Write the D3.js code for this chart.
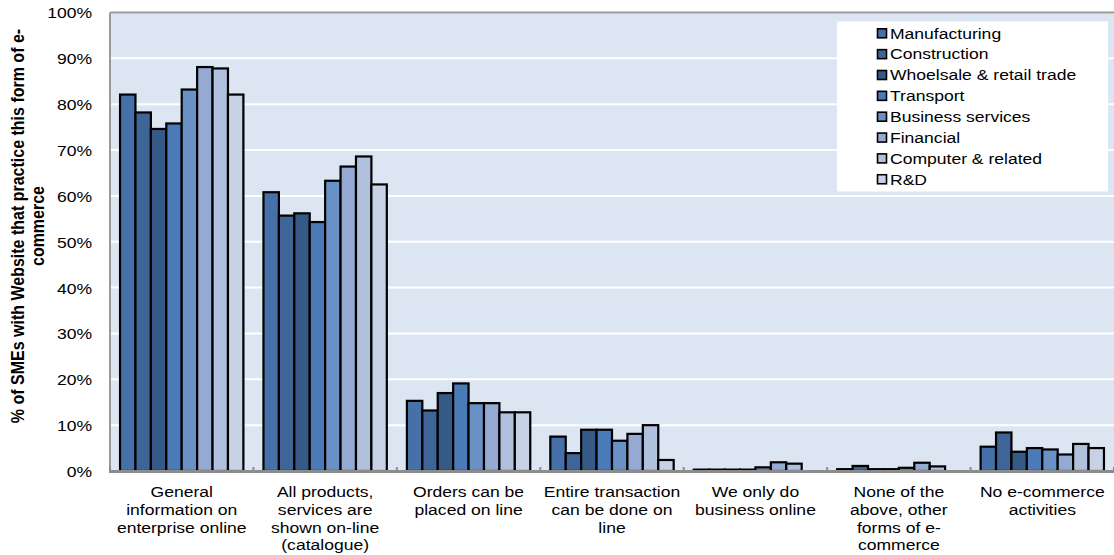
<!DOCTYPE html>
<html><head><meta charset="utf-8">
<script src="https://cdn.jsdelivr.net/npm/d3@7"></script>
<style>
html,body{margin:0;padding:0;background:#fff;}
svg text{font-family:"Liberation Sans",Arial,sans-serif;fill:#000;}
</style></head>
<body><svg id="chart" width="1114" height="555"></svg>
<script>
const categories = ["General information on enterprise online","All products, services are shown on-line (catalogue)","Orders can be placed on line","Entire transaction can be done on line","We only do business online","None of the above, other forms of e-commerce","No e-commerce activities"];
const categoryLines = [["General","information on","enterprise online"],["All products,","services are","shown on-line","(catalogue)"],["Orders can be","placed on line"],["Entire transaction","can be done on","line"],["We only do","business online"],["None of the","above, other","forms of e-","commerce"],["No e-commerce","activities"]];
const seriesNames = ["Manufacturing","Construction","Whoelsale & retail trade","Transport","Business services","Financial","Computer & related","R&D"];
const manufacturing = [82.1, 60.8, 15.3, 7.5, 0.3, 0.4, 5.3];
const construction  = [78.2, 55.7, 13.2, 3.9, 0.3, 1.1, 8.4];
const wholesale     = [74.6, 56.2, 17.0, 9.0, 0.3, 0.4, 4.2];
const transport     = [75.8, 54.3, 19.1, 9.0, 0.3, 0.4, 5.0];
const business      = [83.2, 63.3, 14.8, 6.6, 0.8, 0.7, 4.7];
const financial     = [88.1, 66.4, 14.8, 8.1, 1.9, 1.8, 3.6];
const computer      = [87.8, 68.6, 12.8, 10.0, 1.6, 1.0, 5.9];
const rnd           = [82.1, 62.5, 12.8, 2.4, 0.0, 0.0, 5.0];
const yTicks = [0,10,20,30,40,50,60,70,80,90,100];
const yTitleLines = ["% of SMEs with Website that practice this form of e-","commerce"];

const seriesValues = [manufacturing, construction, wholesale, transport, business, financial, computer, rnd];
const colors = ["#4570A8","#3D6597","#365A86","#4A7AB8","#6991C5","#94AAD3","#B0C1DD","#C8D2E6"];
const SX = 1.17;

const svg = d3.select("#chart");
const L = 110, R = 1114, T = 12.5, B = 471;

const x0 = d3.scaleBand().domain(categories).range([L, R]).paddingInner(0.14).paddingOuter(0.07);
const x1 = d3.scaleBand().domain(seriesNames).range([0, x0.bandwidth()]);
const y = d3.scaleLinear().domain([0, 100]).range([B, T]);

svg.append("rect").attr("x", L).attr("y", T).attr("width", R - L).attr("height", B - T).attr("fill", "#DCE6F2");

svg.append("g").selectAll("line").data(yTicks.filter(d => d > 0)).join("line")
  .attr("x1", L).attr("x2", R).attr("y1", d => y(d)).attr("y2", d => y(d))
  .attr("stroke", "#fff").attr("stroke-width", 2);

svg.append("line").attr("x1", L).attr("x2", R).attr("y1", T).attr("y2", T).attr("stroke", "#999").attr("stroke-width", 2);
svg.append("line").attr("x1", L).attr("x2", L).attr("y1", T).attr("y2", B).attr("stroke", "#999").attr("stroke-width", 2);

const groups = svg.append("g").selectAll("g").data(categories).join("g")
  .attr("transform", d => `translate(${x0(d)},0)`);
groups.selectAll("rect").data((c, ci) => seriesNames.map((s, si) => ({s, si, v: seriesValues[si][ci]})))
  .join("rect")
  .attr("x", d => x1(d.s)).attr("width", x1.bandwidth())
  .attr("y", d => y(d.v)).attr("height", d => B - y(d.v))
  .attr("fill", d => colors[d.si])
  .attr("stroke", "#000").attr("stroke-width", d => d.v > 0 ? 2.2 : 0);

svg.append("line").attr("x1", L - 1).attr("x2", R).attr("y1", B + 0.5).attr("y2", B + 0.5).attr("stroke", "#8c8c8c").attr("stroke-width", 3);
const step = x0.step();
svg.append("g").selectAll("line").data(d3.range(categories.length + 1)).join("line")
  .attr("x1", i => L + i * step).attr("x2", i => L + i * step)
  .attr("y1", B - 4).attr("y2", B).attr("stroke", "#8c8c8c").attr("stroke-width", 2);

const yAxis = d3.axisLeft(y).tickValues(yTicks).tickFormat(d => d + "%").tickSize(0);
const gy = svg.append("g").attr("transform", `translate(${L},0)`).call(yAxis);
gy.select(".domain").remove();
gy.selectAll("text")
  .attr("x", -18 / SX).attr("dy", "0.36em")
  .attr("transform", `scale(${SX},1)`)
  .style("font-size", "15px").style("font-family", "'Liberation Sans',Arial,sans-serif").attr("fill", "#000");

const xl = svg.append("g");
categories.forEach((c, ci) => {
  const cx = x0(c) + x0.bandwidth() / 2;
  categoryLines[ci].forEach((line, li) => {
    xl.append("text")
      .attr("transform", `translate(${cx},${497 + li * 17.8}) scale(${SX},1)`)
      .attr("text-anchor", "middle").style("font-size", "15px").text(line);
  });
});

yTitleLines.forEach((line, li) => {
  svg.append("text")
    .attr("transform", `translate(${24 + li * 20},226) scale(${SX},1) rotate(-90)`)
    .attr("text-anchor", "middle").style("font-size", "16px").style("font-weight", "bold").text(line);
});

const lg = svg.append("g");
lg.append("rect").attr("x", 837).attr("y", 21.5).attr("width", 271).attr("height", 170).attr("fill", "#fff");
seriesNames.forEach((s, i) => {
  const cy = 33.3 + i * 20.85;
  lg.append("rect").attr("x", 877.5).attr("y", cy - 4.5).attr("width", 9).attr("height", 9)
    .attr("fill", colors[i]).attr("stroke", "#000").attr("stroke-width", 1.6);
  lg.append("text").attr("transform", `translate(890,${cy + 5.3}) scale(${SX},1)`)
    .style("font-size", "15px").text(s);
});
</script></body></html>
